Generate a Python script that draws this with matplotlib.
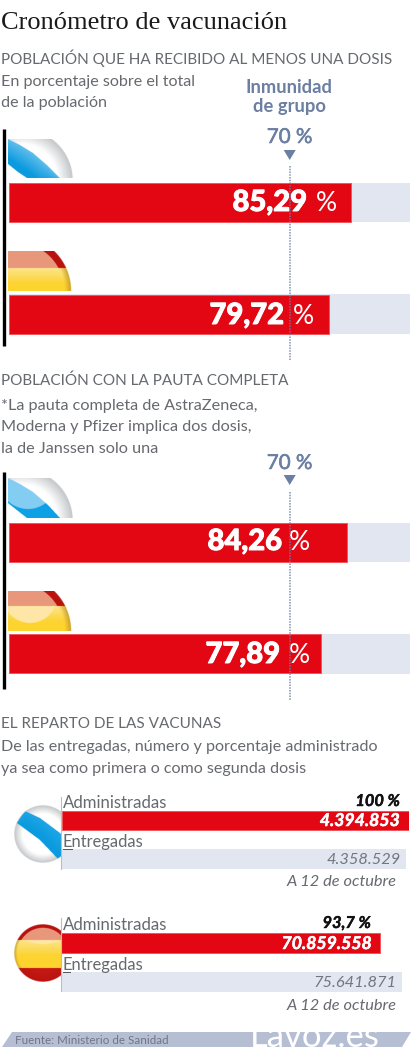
import matplotlib
matplotlib.use("Agg")
import matplotlib.patheffects as pe
import matplotlib.pyplot as plt
import numpy as np
from matplotlib.colors import to_rgb
from matplotlib.patches import Polygon

# share of the population, %
regions = ["Galicia", "España"]
one_dose = [85.29, 79.72]
full_course = [84.26, 77.89]
herd_immunity = 70

# doses, in the order Galicia, España
administered = [4394853, 70859558]
delivered = [4358529, 75641871]
administered_pct = ["100 %", "93,7 %"]

W, H = 412, 1050
RED = "#e30613"
RED_EDGE = "#f2555c"
TRACK = "#e2e6f0"
SLATE = "#6b7fa3"
GREY = "#66696e"
SANS = "Lato"

fig = plt.figure(figsize=(W / 100, H / 100), dpi=100)


def px_axes(x0, y0, x1, y1, z=2):
    # axes placed by pixel box, y0 is the upper edge
    a = fig.add_axes([x0 / W, 1 - y1 / H, (x1 - x0) / W, (y1 - y0) / H], zorder=z)
    a.axis("off")
    a.patch.set_alpha(0)
    return a


# full-size layer in pixel units for text and flags, above the bars
ax = px_axes(0, 0, W, H, z=3)
ax.set_xlim(0, W)
ax.set_ylim(H, 0)


def txt(x, y, s, size, color=GREY, ha="left", weight="normal", style="normal", family=SANS):
    return ax.text(x, y, s, fontsize=size, color=color, ha=ha, va="baseline",
                   fontweight=weight, fontstyle=style, family=family, zorder=5)


def thicken(t, color, width):
    t.set_path_effects([pe.withStroke(linewidth=width, foreground=color)])


def rgb_of(c):
    return np.array(to_rgb(c)) if isinstance(c, str) else c


def mix(a, b, t):
    t = np.clip(t, 0, 1)[..., None]
    return rgb_of(a) * (1 - t) + rgb_of(b) * t


def ball(box, cx, cy, r, painter):
    # one glossy flag, painted per pixel and cut by a circle and a box
    x0, x1, y0, y1 = box
    xs = np.arange(x0, x1, 0.25) + 0.125
    ys = np.arange(y0, y1, 0.25) + 0.125
    X, Y = np.meshgrid(xs, ys)
    R = np.hypot(X - cx, Y - cy) / r
    rgb = painter(X, Y, R)
    alpha = np.clip((1 - R) * r * 1.5, 0, 1)
    img = np.dstack([rgb, alpha])
    ax.imshow(img, extent=(x0, x1, y1, y0), zorder=3, aspect="auto")
    ax.set_xlim(0, W)
    ax.set_ylim(H, 0)


def galicia_painter(upper, lower, gloss=None, band_top="#5fbdec"):
    def paint(X, Y, R):
        rgb = mix("#ffffff", "#c2c5c7", (R - 0.7) / 0.3)
        up = np.interp(X, upper[0], upper[1])
        lo = np.interp(X, lower[0], lower[1])
        band = (Y > up) & (Y < lo)
        t = (Y - up) / np.maximum(lo - up, 1)
        blue = mix(band_top, "#0a9ade", t * 1.3)
        if gloss is not None:
            inside = ((X - gloss[0]) / gloss[2]) ** 2 + ((Y - gloss[1]) / gloss[3]) ** 2 < 1
            blue = np.where(inside[..., None], rgb_of("#84ccf3"), rgb_of("#0ea0e4"))
        return np.where(band[..., None], blue, rgb)
    return paint


def spain_painter(red_end, yellow_end, gloss=None):
    def paint(X, Y, R):
        rgb = mix("#fde48c", "#fdd32f", (Y - red_end) / 16)
        rgb = mix(rgb, "#c9a02a", (R - 0.88) / 0.12)
        if gloss is not None:
            inside = ((X - gloss[0]) / gloss[2]) ** 2 + ((Y - gloss[1]) / gloss[3]) ** 2 < 1
            rgb = np.where(inside[..., None], rgb_of("#fee7a6"), rgb)
        red = np.where((R > 0.87)[..., None], rgb_of("#b9130f"), rgb_of("#e8977b"))
        rgb = np.where((Y < red_end)[..., None], red, rgb)
        if yellow_end is not None:
            rgb = np.where((Y > yellow_end)[..., None], mix("#d9221c", "#b9130f", R), rgb)
        return rgb
    return paint


# title and section headings
txt(1, 29, "Cronómetro de vacunación", 19, color="#1a1a1a", family="Liberation Serif")
txt(1, 64, "POBLACIÓN QUE HA RECIBIDO AL MENOS UNA DOSIS", 11)
txt(1, 86, "En porcentaje sobre el total", 11.6)
txt(1, 107, "de la población", 11.6)
txt(289.5, 93, "Inmunidad", 13.2, color=SLATE, ha="center", weight="bold")
txt(289.5, 112, "de grupo", 13.2, color=SLATE, ha="center", weight="bold")
txt(1, 385, "POBLACIÓN CON LA PAUTA COMPLETA", 11)
txt(1, 410, "*La pauta completa de AstraZeneca,", 11.7)
txt(1, 431, "Moderna y Pfizer implica dos dosis,", 11.7)
txt(1, 453, "la de Janssen solo una", 11.7)
txt(1, 728, "EL REPARTO DE LAS VACUNAS", 11)
txt(1, 751, "De las entregadas, número y porcentaje administrado", 11.6)
txt(1, 773, "ya sea como primera o como segunda dosis", 11.6)

# percentage bars share one scale, 0-100 across the track
bars = px_axes(9, 120, 410, 705)
bars.set_xlim(0, 100)
bars.set_ylim(705, 120)
rows = [(202.6, one_dose[0]), (314.2, one_dose[1]), (542.4, full_course[0]), (653.9, full_course[1])]
for y, v in rows:
    bars.barh(y, 100, height=39.6, color=TRACK, linewidth=0)
    bars.barh(y, v, height=39, color=RED, edgecolor=RED_EDGE, linewidth=0.7)

# reference line at the herd immunity threshold, drawn over the value labels
marks = px_axes(9, 120, 410, 705, z=4)
marks.set_xlim(0, 100)
marks.set_ylim(705, 120)
for y0, y1 in [(166, 360), (492, 700)]:
    marks.plot([herd_immunity, herd_immunity], [y0, y1], color=SLATE, lw=1.1,
               ls=(0, (1, 0.8)), alpha=0.85)
for base, tip in [(150, 160), (475, 485)]:
    marks.fill([herd_immunity - 1.5, herd_immunity + 1.5, herd_immunity], [base, base, tip],
               color=SLATE, linewidth=0)
for base in (143, 469):
    thicken(txt(289.5, base, f"{herd_immunity} %", 14.8, color=SLATE, ha="center"), SLATE, 0.4)

value_text = [(307, 211, 316, one_dose[0]), (284, 324, 293, one_dose[1]),
              (282, 550, 289, full_course[0]), (280, 663, 289, full_course[1])]
for right, base, pct_x, v in value_text:
    label = txt(right, base, f"{v:.2f}".replace(".", ","), 21, color="white", ha="right", weight="black")
    thicken(label, "white", 0.7)
    txt(pct_x, base, "%", 19, color="white")

ax.plot([4, 4], [129, 346], color="black", lw=2.4, solid_capstyle="butt", zorder=4)
ax.plot([4, 4], [472, 689], color="black", lw=2.4, solid_capstyle="butt", zorder=4)

# flags above the bars, cut off by the box
gal_up = ([8, 20, 33, 48, 60, 73], [139, 145, 153, 166, 178, 190])
gal_lo = ([8, 18, 27, 40], [164, 172, 178, 188])
ball((8, 74, 139, 178), 22, 180, 51, galicia_painter(gal_up, gal_lo))
gal_up2 = ([8, 20, 33, 48, 60, 73], [478, 484, 492, 505, 518, 530])
gal_lo2 = ([8, 18, 27, 40], [503, 511, 518, 528])
ball((8, 74, 478, 518), 22, 520, 51, galicia_painter(gal_up2, gal_lo2, gloss=(28, 478, 30, 31)))
ball((8, 72, 251, 291), 15.5, 291, 56, spain_painter(268, None))
ball((8, 72, 591, 631), 15.5, 631, 56, spain_painter(606, None, gloss=(30, 596, 27, 27)))

# dose bars, one scale per group
boxes = [(62, 806, 409, 873), (61, 929, 381, 995)]
red_rows = [(820.5, 19.5), (943, 19.5)]
track_rows = [(859, 20), (981.8, 19.5)]
for i in range(len(regions)):
    x0 = boxes[i][0]
    top = max(administered[i], delivered[i])
    span = 347 if i == 0 else 341
    a = px_axes(x0, boxes[i][1], x0 + span, boxes[i][3])
    a.set_xlim(0, top)
    a.set_ylim(boxes[i][3], boxes[i][1])
    a.barh(track_rows[i][0], delivered[i], height=track_rows[i][1], color=TRACK, linewidth=0)
    a.barh(red_rows[i][0], administered[i], height=red_rows[i][1], color=RED,
           edgecolor=RED_EDGE, linewidth=0.7)

ax.plot([61, 61], [797, 869], color="#b8bdc6", lw=0.8, zorder=4)
ax.plot([61, 61], [918, 991], color="#b8bdc6", lw=0.8, zorder=4)
ax.plot([63, 72], [849, 849], color="#555555", lw=0.7, zorder=4)
ax.plot([63, 70], [972, 972], color="#555555", lw=0.7, zorder=4)

small_up = ([14, 25, 40, 60, 72], [827, 811, 818, 833, 845])
small_lo = ([14, 17, 40, 59, 72], [825, 823, 840, 860, 875])
ball((14, 61, 805, 863), 43, 834, 29, galicia_painter(small_up, small_lo, band_top="#1ea5e6"))
ball((14, 61, 924, 982), 43, 953, 29, spain_painter(940, 968, gloss=(43, 930, 24, 14)))

label_rows = [(808, 806, 826, 847, 864, 886, 400, 400, 401), (930, 928, 949, 970, 987, 1010, 371, 372, 397)]
for i, row in enumerate(label_rows):
    txt(63, row[0], "Administradas", 12.1)
    thicken(txt(row[6], row[1], administered_pct[i], 11.8, color="#111111", ha="right", weight="bold",
                style="italic"), "#111111", 0.3)
    thicken(txt(row[7], row[2], f"{administered[i]:,}".replace(",", "."), 12.7, color="white", ha="right",
                weight="bold", style="italic"), "white", 0.4)
    txt(63, row[3], "Entregadas", 11.9)
    txt(row[8], row[4], f"{delivered[i]:,}".replace(",", "."), 11.8, color="#72767d", ha="right", style="italic")
    txt(397, row[5], "A 12 de octubre", 11.8, color=GREY, ha="right", style="italic")

# source strip at the foot, the white brand mark runs off its upper edge
strip = Polygon([(12, 1032), (411, 1032), (402, 1047), (2, 1047)], closed=True,
                facecolor="#b5bed3", edgecolor="none", zorder=2)
ax.add_patch(strip)
txt(15, 1044, "Fuente: Ministerio de Sanidad", 8.35, color="#6f7686")
txt(250, 1047, "Lavoz.es", 25, color="white")

fig.savefig("out.png", dpi=100)
